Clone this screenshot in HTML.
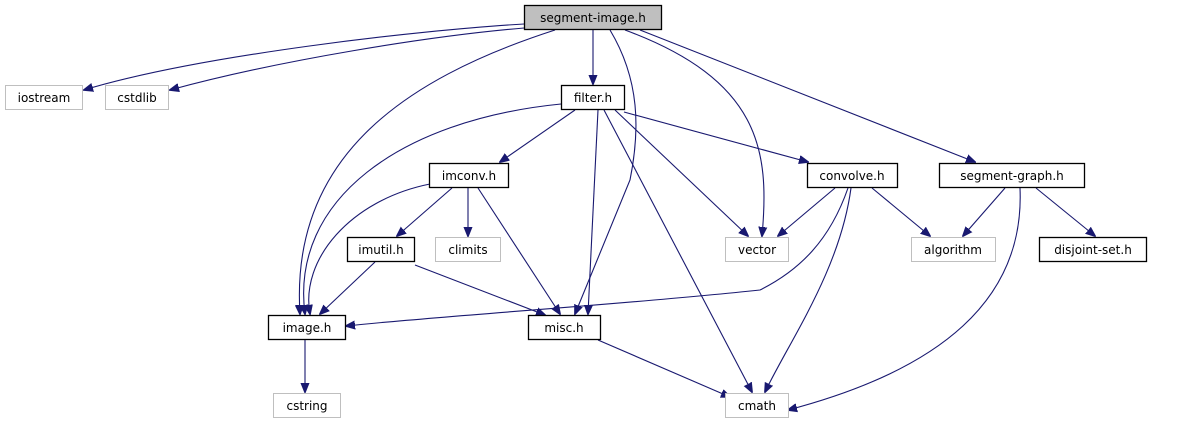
<!DOCTYPE html>
<html><head><meta charset="utf-8"><style>
html,body{margin:0;padding:0;background:#fff}
svg{display:block}
text{font-family:"DejaVu Sans","Liberation Sans",sans-serif;font-size:12px;text-anchor:middle}
.n{fill:#fff;stroke:#000;stroke-width:1.3}
.g{fill:#fff;stroke:#bfbfbf;stroke-width:1}
.e{fill:none;stroke:#191970;stroke-width:1.1}
</style></head><body>
<svg width="1179" height="427" viewBox="0 0 1179 427">
<defs><marker id="a" viewBox="0 0 10 10" refX="9" refY="5" markerWidth="10" markerHeight="10" markerUnits="userSpaceOnUse" orient="auto"><path d="M0,1 L10,5 L0,9 z" fill="#191970" stroke="#191970"/></marker></defs>
<g marker-end="url(#a)">
<path class="e" d="M524,24 C420,30 200,55 84,90"/>
<path class="e" d="M524,28 C430,36 280,60 170,90"/>
<path class="e" d="M593,30 L593,84"/>
<path class="e" d="M555,30 C400,80 290,160 300,314"/>
<path class="e" d="M610,30 C640,80 640,130 630,180 L575,314"/>
<path class="e" d="M625,30 C760,80 770,150 762,236"/>
<path class="e" d="M640,30 L975,162"/>
<path class="e" d="M561,104 C400,120 290,200 305,314"/>
<path class="e" d="M575,110 L500,162"/>
<path class="e" d="M598,110 L588,314"/>
<path class="e" d="M604,110 L752,392"/>
<path class="e" d="M615,110 L748,236"/>
<path class="e" d="M624,112 L808,162"/>
<path class="e" d="M430,184 C350,200 300,260 310,314"/>
<path class="e" d="M452,188 L397,236"/>
<path class="e" d="M468,188 L468,236"/>
<path class="e" d="M478,188 L560,314"/>
<path class="e" d="M375,262 L320,314"/>
<path class="e" d="M415,265 L545,315"/>
<path class="e" d="M305,340 L305,392"/>
<path class="e" d="M598,340 L730,397"/>
<path class="e" d="M835,188 L778,236"/>
<path class="e" d="M848,188 C830,240 800,270 760,290 C620,305 450,315 346,326"/>
<path class="e" d="M851,188 C840,270 790,340 765,392"/>
<path class="e" d="M872,188 L930,236"/>
<path class="e" d="M1005,188 L963,236"/>
<path class="e" d="M1020,188 C1025,300 940,370 788,410"/>
<path class="e" d="M1036,188 L1095,236"/>
</g>
<rect x="524.5" y="5.5" width="137" height="24" fill="#bfbfbf" stroke="#000" stroke-width="1.3"/><text x="593" y="22">segment-image.h</text>
<rect class="g" x="5.5" y="85.5" width="77" height="24"/><text x="44" y="102">iostream</text>
<rect class="g" x="105.5" y="85.5" width="63" height="24"/><text x="137" y="102">cstdlib</text>
<rect class="n" x="561.5" y="85.5" width="63" height="24"/><text x="593" y="102">filter.h</text>
<rect class="n" x="429.5" y="163.5" width="79" height="24"/><text x="469" y="180">imconv.h</text>
<rect class="n" x="807.5" y="163.5" width="90" height="24"/><text x="852" y="180">convolve.h</text>
<rect class="n" x="939.5" y="163.5" width="145" height="24"/><text x="1012" y="180">segment-graph.h</text>
<rect class="n" x="347.5" y="237.5" width="67" height="24"/><text x="381" y="254">imutil.h</text>
<rect class="g" x="435.5" y="237.5" width="65" height="24"/><text x="468" y="254">climits</text>
<rect class="g" x="725.5" y="237.5" width="63" height="24"/><text x="757" y="254">vector</text>
<rect class="g" x="911.5" y="237.5" width="84" height="24"/><text x="953" y="254">algorithm</text>
<rect class="n" x="1039.5" y="237.5" width="107" height="24"/><text x="1093" y="254">disjoint-set.h</text>
<rect class="n" x="268.5" y="315.5" width="77" height="24"/><text x="307" y="332">image.h</text>
<rect class="n" x="528.5" y="315.5" width="72" height="24"/><text x="564" y="332">misc.h</text>
<rect class="g" x="273.5" y="393.5" width="67" height="24"/><text x="307" y="410">cstring</text>
<rect class="g" x="725.5" y="393.5" width="63" height="24"/><text x="757" y="410">cmath</text>
</svg>
</body></html>
